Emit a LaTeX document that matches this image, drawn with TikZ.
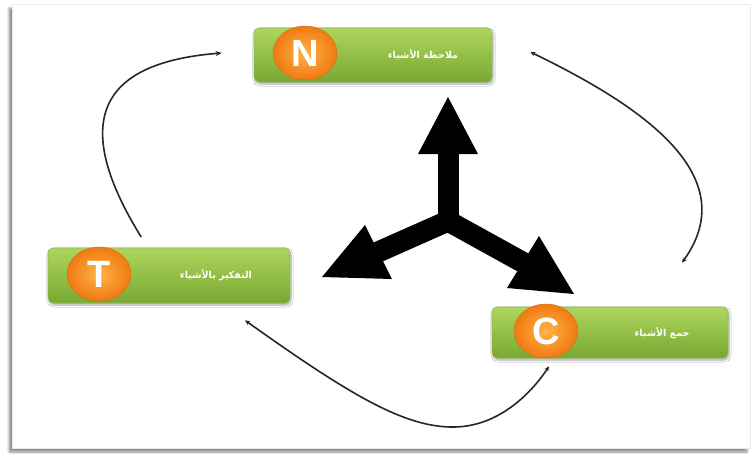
\documentclass[tikz,border=0pt]{standalone}
\usepackage{fontspec}
\setmainfont{Liberation Sans}
\newfontfamily\arabicfont[Script=Arabic]{DejaVu Sans}
\TeXXeTstate=1
\usetikzlibrary{shadows.blur,arrows.meta,calc,shapes.geometric}
\definecolor{leaftop}{HTML}{AED65E}
\definecolor{leafbot}{HTML}{78A832}
\definecolor{peel}{HTML}{F07A12}
\definecolor{peellight}{HTML}{FFB347}
\tikzset{
  stepbox/.style={rectangle, rounded corners=5pt, top color=leaftop, bottom color=leafbot,
    draw=leafbot!80!white, line width=0.6pt, inner sep=0pt,
    blur shadow={shadow xshift=1pt, shadow yshift=-2pt, shadow blur steps=6, shadow opacity=35}},
  badge/.style={ellipse, minimum width=64pt, minimum height=54pt, inner sep=0pt,
    inner color=peellight, outer color=peel, draw=peel!90!black, line width=0.4pt},
  initial/.style={text=white, font=\bfseries\fontsize{38}{38}\selectfont},
  caption/.style={text=white, font=\arabicfont\bfseries\fontsize{9.5}{10}\selectfont},
  cycle/.style={line width=1.6pt, draw=black!85, line cap=round},
  tip/.style={-{Stealth[length=6pt,width=5pt]}},
  bothtips/.style={{Stealth[length=5pt,width=4.5pt]}-{Stealth[length=5pt,width=4.5pt]}},
}
\begin{document}
\begin{tikzpicture}[x=1pt,y=-1pt]
\useasboundingbox (0,0) rectangle (756,456);
% white panel with a soft shadow
\fill[white, draw=black!8, blur shadow={shadow xshift=-3pt, shadow yshift=-4pt, shadow blur steps=8, shadow opacity=45}]
  (12,4) rectangle (750,448);

% the three steps
\node[stepbox, minimum width=238pt, minimum height=54pt] (n) at (373,55) {};
\node[stepbox, minimum width=242pt, minimum height=55pt] (t) at (169,275.5) {};
\node[stepbox, minimum width=236pt, minimum height=51pt] (c) at (610,332.5) {};

\node[badge] (nb) at (305,53) {};
\node[badge] (tb) at (99,274) {};
\node[badge] (cb) at (546,331) {};
\node[initial] at (nb) {N};
\node[initial] at (tb) {T};
\node[initial] at (cb) {C};

\node[caption] (nt) at (423,55) {\beginR ملاحظة الأشياء\endR};
\node[caption] (tt) at (216,275) {\beginR التفكير بالأشياء\endR};
\node[caption] (ct) at (662,333) {\beginR جمع الأشياء\endR};

% cycle connectors
\draw[cycle, tip] ([xshift=-28pt,yshift=11pt]t.north)
  .. controls (72,125) and (95,63) .. ([xshift=-32pt,yshift=2pt]n.west);
\draw[cycle, bothtips] ([xshift=38pt,yshift=3pt]n.east)
  .. controls (640,105) and (745,175) .. ([xshift=72pt,yshift=44pt]c.north);
\draw[cycle, bothtips] ([xshift=76pt,yshift=-17pt]t.south)
  .. controls (350,395) and (405,428) .. (455,427)
  .. controls (500,426) and (532,392) .. ([xshift=-61pt,yshift=-8pt]c.south);

% three-way arrow in the middle
\coordinate (hub) at (448,221);
\draw[line width=21pt, line join=miter] (378,252) -- (hub) -- (524,263);
\draw[line width=21pt] (hub) -- (448,150);
\fill (418,154) -- (478,154) -- (448,97) -- cycle;
\fill (365,225) -- (392,279) -- (322,277) -- cycle;
\fill (539,236) -- (507,288) -- (574,294) -- cycle;
\end{tikzpicture}
\end{document}
